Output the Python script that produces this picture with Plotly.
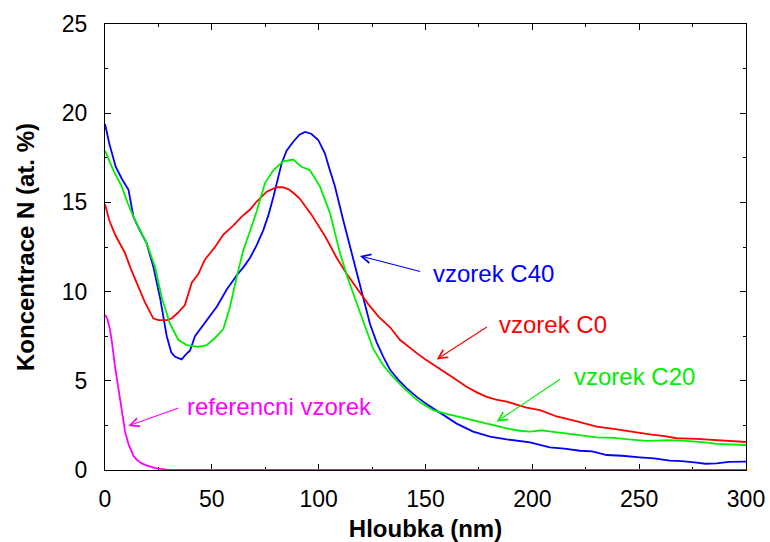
import plotly.graph_objects as go

# ---- data ----
c40_x = [0, 2, 5, 8, 11, 13.3, 16, 19.5, 22.6, 25.7, 28.9, 31, 32.8, 35.9, 38, 39.8, 42.1, 47.6, 52.3, 56.9,
         61.6, 65, 67.9, 71, 74.1, 76.5, 78.8, 82.7, 85, 88.1, 91, 93.6, 96.5, 99.8, 102.9, 105, 107.6, 111.5,
         116.2, 120.1, 124, 127, 130.2, 133.5, 137.3, 141, 145.9, 151, 156.8, 164.6, 172.3, 180.2, 188, 193,
         198.9, 208.2, 215, 222.3, 228, 234.8, 242, 250.3, 257, 264.4, 270, 276.9, 281, 286.2, 292, 300]
c40_y = [19.4, 18.3, 17.0, 16.3, 15.7, 14.2, 13.5, 12.7, 11.4, 9.7, 7.5, 6.6, 6.35, 6.2, 6.5, 6.7, 7.5, 8.4, 9.15, 10.1,
         10.9, 11.4, 11.9, 12.6, 13.45, 14.3, 15.3, 17.2, 17.9, 18.4, 18.8, 18.95, 18.85, 18.5, 17.75, 16.9, 15.9, 14.0,
         11.8, 10.0, 8.2, 7.2, 6.35, 5.6, 5.05, 4.6, 4.1, 3.65, 3.2, 2.6, 2.15, 1.87, 1.72, 1.65,
         1.55, 1.27, 1.2, 1.08, 1.05, 0.84, 0.8, 0.71, 0.65, 0.52, 0.5, 0.41, 0.35, 0.37, 0.45, 0.47]

c20_x = [0, 3.9, 7.8, 10.5, 13.3, 16.5, 19.5, 23.4, 26.5, 30.4, 34.3, 38.2, 41, 43.7, 47.6, 51.5, 55.4, 58.5, 61.6,
         64.7, 67.9, 71, 74.9, 78.8, 83.4, 88.1, 90, 92, 95.9, 98, 100.6, 105.3, 110, 113.9, 117, 120.1, 125.5, 130,
         134.9, 139, 144.3, 148, 153.6, 158, 164.6, 170, 175.5, 182, 188, 194, 198.9, 204.3, 210, 214.5, 222, 230.1,
         238, 245, 253.5, 258, 264.4, 270, 276.9, 281, 286.2, 292, 300]
c20_y = [17.9, 16.8, 15.9, 15.0, 14.2, 13.4, 12.7, 11.4, 9.7, 8.2, 7.3, 7.0, 6.95, 6.9, 7.0, 7.4, 7.9, 9.15, 10.8,
         12.3, 13.4, 14.5, 16.1, 16.8, 17.3, 17.4, 17.2, 17.0, 16.8, 16.4, 15.9, 14.4, 12.15, 10.65, 9.6, 8.6, 6.8, 5.9,
         5.2, 4.7, 4.1, 3.75, 3.35, 3.2, 3.0, 2.85, 2.7, 2.5, 2.33, 2.2, 2.15, 2.22, 2.12, 2.05, 1.95, 1.83,
         1.8, 1.72, 1.63, 1.65, 1.68, 1.65, 1.59, 1.55, 1.46, 1.43, 1.4]

c0_x = [0, 2, 4.7, 7, 9.4, 12, 14.8, 18.7, 22.6, 25, 27.3, 29, 31.2, 34, 37.4, 40.6, 43.7, 46.8, 51.5, 55.4, 60,
        64, 67.9, 71, 75.7, 80.3, 83, 85.8, 88.5, 91.2, 96.7, 103, 108.4, 113.1, 117.8, 123.2, 128, 133.4, 138,
        141, 145.9, 150, 153.6, 161.4, 169.2, 174, 178.6, 183, 188, 192, 197.3, 203.6, 211.4, 220, 230.1, 238,
        245.7, 255, 262, 267.5, 276.9, 286.2, 292, 300]
c0_y = [14.9, 14.0, 13.2, 12.7, 12.15, 11.3, 10.5, 9.4, 8.5, 8.4, 8.4, 8.4, 8.5, 8.8, 9.25, 10.5, 11.0, 11.8, 12.5, 13.2, 13.7,
        14.2, 14.6, 15.05, 15.6, 15.85, 15.85, 15.75, 15.5, 15.2, 14.3, 13.1, 11.9, 11.0, 10.2, 9.3, 8.6, 8.0, 7.3,
        7.0, 6.55, 6.2, 5.9, 5.3, 4.67, 4.35, 4.1, 3.95, 3.83, 3.7, 3.5, 3.36, 3.0, 2.75, 2.43, 2.3,
        2.15, 2.0, 1.9, 1.78, 1.74, 1.68, 1.63, 1.57]

ref_x = [0, 1, 2.3, 3.1, 4.7, 7, 9.4, 11, 13.3, 15, 17.2, 19.5, 23.4, 29, 35, 50, 100, 200, 300]
ref_y = [8.7, 8.5, 7.9, 7.3, 5.8, 3.9, 2.15, 1.45, 0.8, 0.55, 0.37, 0.26, 0.1, 0.02, 0, 0, 0, 0, 0]

labels = ["vzorek C40", "vzorek C0", "vzorek C20", "referencni vzorek"]
label_pos = [(152.8, 11.04), (183.3, 8.13), (218.4, 5.23), (37.4, 3.55)]
arrow_tail = [(148.2, 11.1), (179.4, 8.07), (213.7, 5.14), (35.1, 3.51)]
arrow_tip = [(119.3, 12.0), (155.2, 6.2), (183.3, 2.71), (10.9, 2.47)]

colors = ["#0000ff", "#ff0000", "#00ee00", "#ff00ff"]
series = [(c40_x, c40_y), (c0_x, c0_y), (c20_x, c20_y), (ref_x, ref_y)]

FONT = "Liberation Sans, Arial, Helvetica, sans-serif"

fig = go.Figure()
for (xs, ys), col, name in zip(series, colors, labels):
    fig.add_trace(go.Scatter(x=xs, y=ys, mode="lines", name=name, cliponaxis=False,
                             line=dict(color=col, width=1.8), showlegend=False))

for txt, (tx, ty), (ax_, ay_), (px, py), col in zip(labels, label_pos, arrow_tail, arrow_tip, colors):
    fig.add_annotation(x=tx, y=ty, text=txt, showarrow=False, xanchor="left", yanchor="middle",
                       font=dict(color=col, size=24, family=FONT))
    fig.add_annotation(x=px, y=py, ax=ax_, ay=ay_, axref="x", ayref="y", text="",
                       showarrow=True, arrowhead=5, arrowsize=1.6, arrowwidth=1.1,
                       arrowcolor=col, standoff=0, startstandoff=0)

axis_common = dict(showline=True, linecolor="black", linewidth=1, mirror="ticks",
                   ticks="inside", ticklen=6, tickwidth=1, tickcolor="black",
                   showgrid=False, zeroline=False, automargin=False, layer="below traces",
                   tickfont=dict(size=23, family=FONT, color="black"))

fig.update_xaxes(range=[0, 300], dtick=50, tick0=0,
                 minor=dict(ticks="inside", ticklen=3, dtick=25, tickcolor="black", showgrid=False),
                 title=dict(text="<b>Hloubka (nm)</b>", font=dict(size=24, family=FONT, color="black"), standoff=16),
                 ticklabelstandoff=8,
                 **axis_common)
fig.update_yaxes(range=[0, 25], dtick=5, tick0=0,
                 minor=dict(ticks="inside", ticklen=3, dtick=2.5, tickcolor="black", showgrid=False),
                 title=dict(text="<b>Koncentrace N (at. %)</b>", font=dict(size=24, family=FONT, color="black"), standoff=20),
                 ticklabelstandoff=12,
                 **axis_common)

fig.update_layout(width=770, height=542, margin=dict(l=105, r=24, t=24, b=72),
                  paper_bgcolor="white", plot_bgcolor="white")

fig.write_html("out.html")
